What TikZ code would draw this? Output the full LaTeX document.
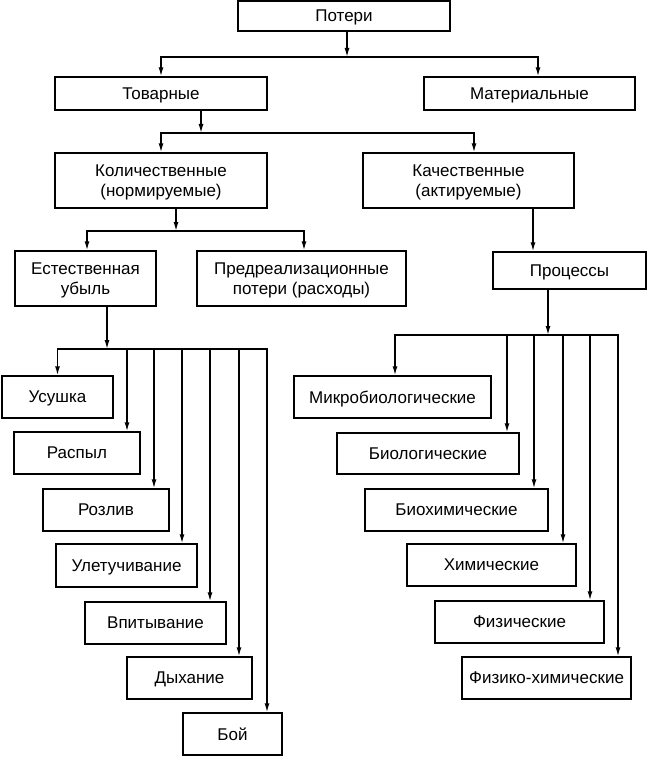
\documentclass[tikz,border=0pt]{standalone}
\usepackage{fontspec}
\setmainfont{Liberation Sans}
\usetikzlibrary{arrows.meta}
\tikzset{
  box/.style={draw, line width=1.4pt, inner sep=0pt, align=center, text depth=0pt, font=\fontsize{17}{20.5}\selectfont},
  arr/.style={line width=1.4pt, -{Latex[length=9pt,width=5pt]}},
  ln/.style={line width=1.4pt}
}
\begin{document}
\begin{tikzpicture}[x=1pt,y=-1pt]
\useasboundingbox (0,0) rectangle (648,757);
% nodes
\node[box, minimum width=212pt, minimum height=30pt] (potery) at (344,16) {Потери};
\node[box, minimum width=212pt, minimum height=33pt] (tovar) at (161,93.5) {Товарные};
\node[box, minimum width=211pt, minimum height=33pt] (mater) at (529.5,93.5) {Материальные};
\node[box, minimum width=212pt, minimum height=55pt] (kolich) at (161,180.5) {Количественные\\(нормируемые)};
\node[box, minimum width=211pt, minimum height=55pt] (kachest) at (468.5,180.5) {Качественные\\(актируемые)};
\node[box, minimum width=141pt, minimum height=55pt] (estest) at (85.5,278.5) {Естественная\\убыль};
\node[box, minimum width=209pt, minimum height=55pt] (predreal) at (301.5,278.5) {Предреализационные\\потери (расходы)};
\node[box, minimum width=153pt, minimum height=37pt] (process) at (569.5,270.5) {Процессы};
% left column
\node[box, minimum width=111pt, minimum height=42pt] (usush) at (57.5,397) {Усушка};
\node[box, minimum width=126pt, minimum height=42pt] (raspyl) at (77,453) {Распыл};
\node[box, minimum width=126pt, minimum height=42pt] (rozliv) at (106,510) {Розлив};
\node[box, minimum width=141pt, minimum height=43pt] (uletuch) at (126.5,565.5) {Улетучивание};
\node[box, minimum width=141pt, minimum height=42pt] (vpityv) at (155.5,623) {Впитывание};
\node[box, minimum width=125pt, minimum height=42pt] (dyhan) at (189.5,678) {Дыхание};
\node[box, minimum width=99pt, minimum height=42pt] (boi) at (232.5,734) {Бой};
% right column
\node[box, minimum width=197pt, minimum height=42pt] (mikro) at (392.5,397) {Микробиологические};
\node[box, minimum width=182pt, minimum height=41pt] (biol) at (428,453.5) {Биологические};
\node[box, minimum width=183pt, minimum height=42pt] (biohim) at (456.5,510) {Биохимические};
\node[box, minimum width=169pt, minimum height=42pt] (him) at (491.5,565) {Химические};
\node[box, minimum width=169pt, minimum height=42pt] (fiz) at (519.5,622) {Физические};
\node[box, minimum width=169pt, minimum height=42pt] (fizhim) at (546.5,678) {Физико-химические};
% junctions
\coordinate (j1) at (347,57);
\coordinate (j2) at (201,133);
\coordinate (j3) at (176,231);
\coordinate (j4) at (107,349);
\coordinate (j5) at (548,335);
\coordinate (cq) at (533,0);
\coordinate (cm) at (538,0);
\coordinate (ck) at (474,0);
\coordinate (ce) at (87,0);
\coordinate (cp) at (304,0);
\coordinate (la) at (127,0);
\coordinate (lb) at (154,0);
\coordinate (lc) at (182,0);
\coordinate (ld) at (210,0);
\coordinate (le) at (239,0);
\coordinate (lf) at (267,0);
\coordinate (ra) at (395,0);
\coordinate (rb) at (507,0);
\coordinate (rc) at (534,0);
\coordinate (rd) at (563,0);
\coordinate (re) at (590,0);
\coordinate (rf) at (618,0);
% level 1
\draw[arr] (potery.south -| j1) -- (j1);
\draw[arr] (j1) -| (tovar.north);
\draw[arr] (j1) -| (mater.north -| cm);
% level 2
\draw[arr] (tovar.south -| j2) -- (j2);
\draw[arr] (j2) -| (kolich.north);
\draw[arr] (j2) -| (kachest.north -| ck);
% level 3
\draw[arr] (kolich.south -| j3) -- (j3);
\draw[arr] (j3) -| (estest.north -| ce);
\draw[arr] (j3) -| (predreal.north -| cp);
\draw[arr] (kachest.south -| cq) -- (process.north -| cq);
% left branches
\draw[arr] (estest.south -| j4) -- (j4);
\draw[arr] (j4) -| (usush.north);
\draw[arr] (j4) -| (raspyl.north -| la);
\draw[arr] (j4) -| (rozliv.north -| lb);
\draw[arr] (j4) -| (uletuch.north -| lc);
\draw[arr] (j4) -| (vpityv.north -| ld);
\draw[arr] (j4) -| (dyhan.north -| le);
\draw[arr] (j4) -| (boi.north -| lf);
% right branches
\draw[arr] (process.south -| j5) -- (j5);
\draw[arr] (j5) -| (mikro.north -| ra);
\draw[arr] (j5) -| (biol.north -| rb);
\draw[arr] (j5) -| (biohim.north -| rc);
\draw[arr] (j5) -| (him.north -| rd);
\draw[arr] (j5) -| (fiz.north -| re);
\draw[arr] (j5) -| (fizhim.north -| rf);
\end{tikzpicture}
\end{document}
